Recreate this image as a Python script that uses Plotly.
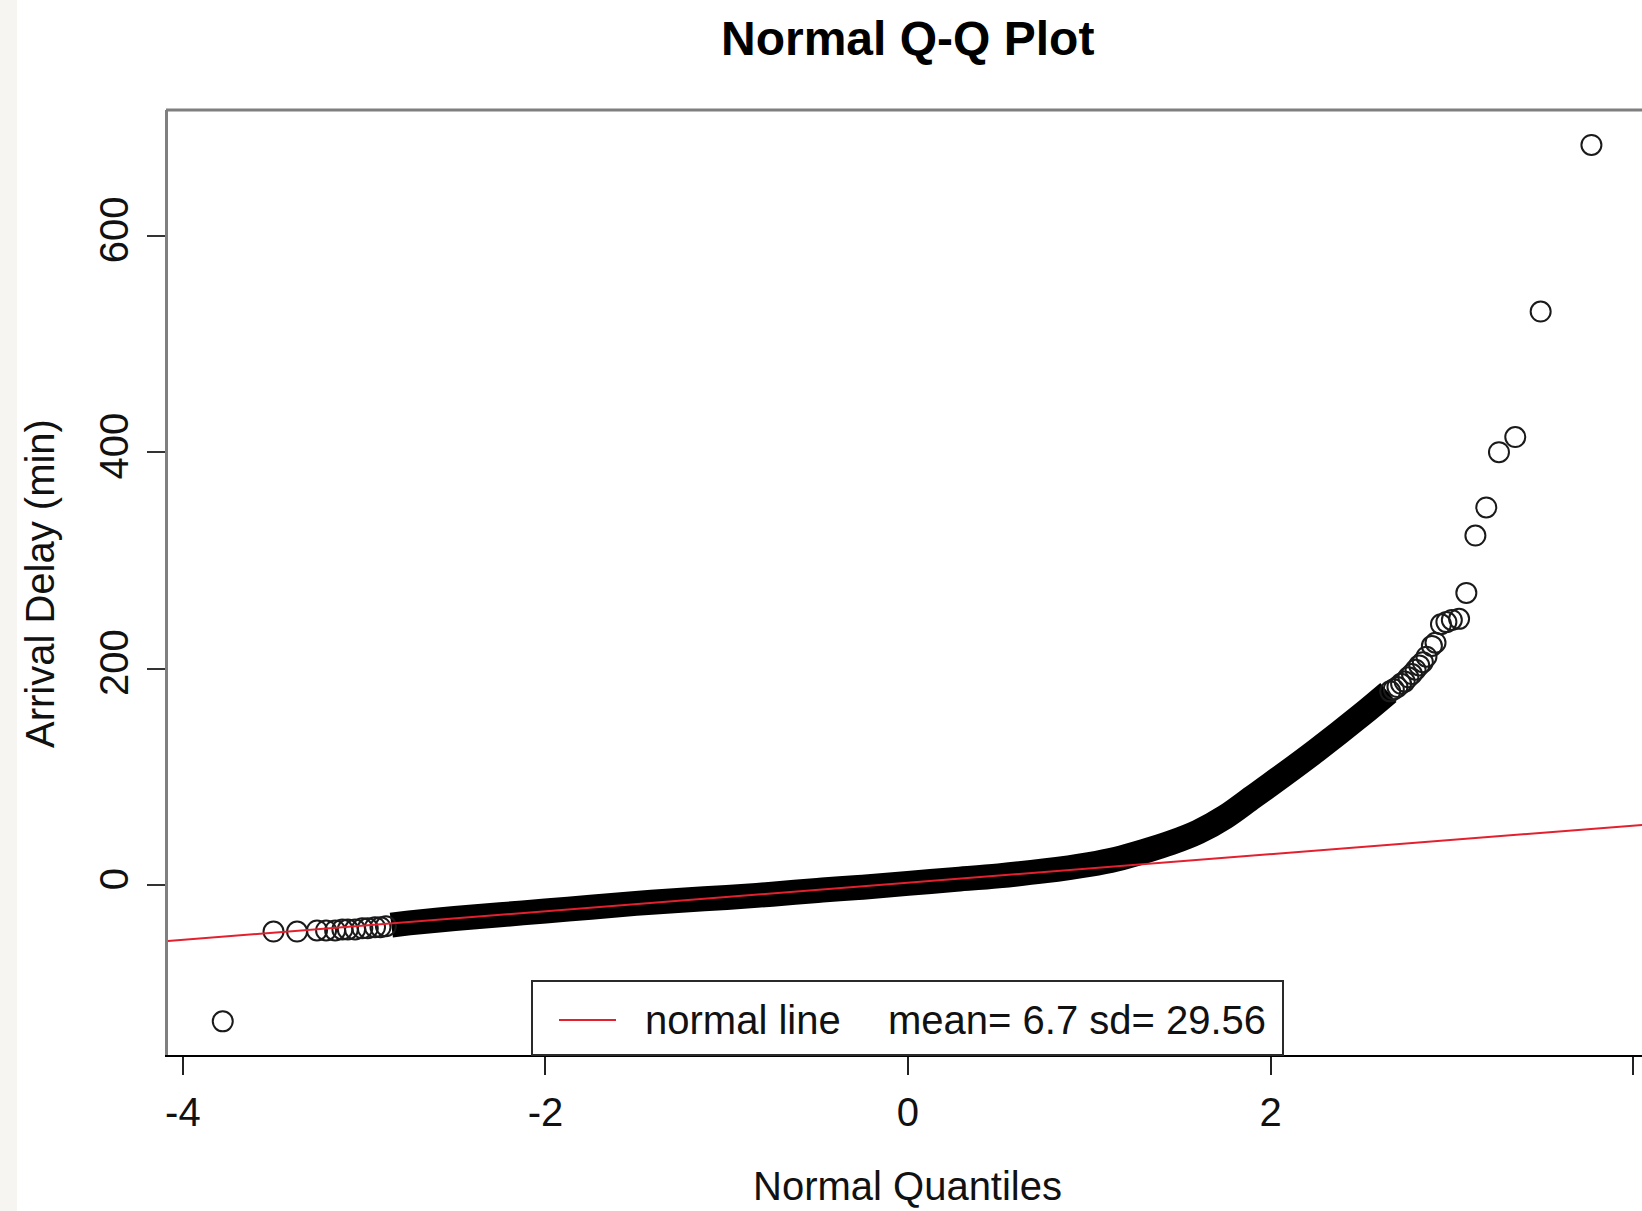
import plotly.graph_objects as go

# ---- data ----
# dense central band of the Q-Q points (theoretical quantile, arrival delay)
band_q = [-2.85, -2.75, -2.5, -2.25, -2.0, -1.75, -1.5, -1.25, -1.0, -0.75, -0.5,
          -0.25, 0.0, 0.25, 0.5, 0.75, 1.0, 1.15, 1.3, 1.45, 1.6, 1.75, 1.9, 2.0,
          2.25, 2.5, 2.65]
band_delay = [-37, -35, -31, -27.5, -24, -20.5, -17, -14, -11.5, -8.5, -5,
              -2, 1.5, 5, 8.5, 13, 19, 24, 31, 39, 49, 63, 81, 93,
              124, 157, 178]

# individually visible points in both tails
tail_q = [-3.78, -3.50, -3.37, -3.26, -3.21, -3.16, -3.12, -3.09, -3.05, -3.01,
          -2.98, -2.94, -2.91, -2.88,
          2.66, 2.68, 2.70, 2.72, 2.74, 2.76, 2.78, 2.80, 2.82, 2.84, 2.86, 2.89,
          2.91, 2.94, 2.97, 3.00, 3.04, 3.08, 3.13, 3.19, 3.26, 3.35, 3.49, 3.77]
tail_delay = [-126, -43, -43, -42, -42, -42, -41, -41, -41, -40,
              -40, -39, -39, -38,
              179, 181, 183, 186, 188, 192, 195, 199, 203, 206, 211, 221,
              224, 241, 243, 245, 246, 270, 323, 349, 400, 414, 530, 684]

# reference ("normal") line end points
ref_q = [-4.2, 4.2]
ref_delay = [-53.3, 57.5]

x_ticks = [-4, -2, 0, 2, 4]
y_ticks = [0, 200, 400, 600]

legend_label = "normal line"
legend_stats = "mean= 6.7 sd= 29.56"

FONT = "Liberation Sans, Arial, Helvetica, sans-serif"
W, H = 1642, 1211
L, R, T, B = 168, 0, 110, 156
PW, PH = W - L - R, H - T - B


def px(X):
    return (X - L) / PW


def py(Y):
    return (H - B - Y) / PH


fig = go.Figure()

fig.add_trace(go.Scatter(
    x=band_q, y=band_delay, mode="lines",
    line=dict(color="#000000", width=25, shape="spline", smoothing=1.0),
    hoverinfo="skip", showlegend=False))

fig.add_trace(go.Scatter(
    x=tail_q, y=tail_delay, mode="markers",
    marker=dict(symbol="circle-open", size=20, color="#1a1a1a",
                line=dict(width=2, color="#1a1a1a")),
    showlegend=False))

fig.add_trace(go.Scatter(
    x=ref_q, y=ref_delay, mode="lines",
    line=dict(color="#e3202e", width=2), showlegend=False))

shapes = [
    # light strip at the far left of the image
    dict(type="rect", xref="paper", yref="paper", x0=px(0), x1=px(17),
         y0=py(H), y1=py(0), fillcolor="#f6f5f2", line=dict(width=0), layer="below"),
    # top frame line
    dict(type="line", xref="paper", yref="paper", x0=px(166), x1=1.0,
         y0=py(110), y1=py(110), line=dict(color="#7f7f7f", width=3)),
    # legend box
    dict(type="rect", xref="paper", yref="paper", x0=px(532), x1=px(1283),
         y0=py(1055), y1=py(981), fillcolor="white",
         line=dict(color="#2a2a2a", width=2), layer="above"),
    # legend swatch
    dict(type="line", xref="paper", yref="paper", x0=px(559), x1=px(616),
         y0=py(1020), y1=py(1020), line=dict(color="#e3202e", width=2), layer="above"),
]

annotations = [
    dict(text=legend_label, xref="paper", yref="paper", x=px(643), y=py(1020),
         xanchor="left", yanchor="middle", showarrow=False,
         font=dict(family=FONT, size=40, color="#111")),
    dict(text=legend_stats, xref="paper", yref="paper", x=px(886), y=py(1020),
         xanchor="left", yanchor="middle", showarrow=False,
         font=dict(family=FONT, size=40, color="#111")),
    dict(text="Normal Quantiles", xref="paper", yref="paper", x=px(907), y=py(1186),
         xanchor="center", yanchor="middle", showarrow=False,
         font=dict(family=FONT, size=40, color="#111")),
    dict(text="Arrival Delay (min)", xref="paper", yref="paper", x=px(40), y=py(584),
         xanchor="center", yanchor="middle", showarrow=False, textangle=-90,
         font=dict(family=FONT, size=40, color="#111")),
    dict(text="<b>Normal Q-Q Plot</b>", xref="paper", yref="paper", x=px(907), y=py(39),
         xanchor="center", yanchor="middle", showarrow=False,
         font=dict(family=FONT, size=48, color="#000")),
]

fig.update_layout(
    width=W, height=H, autosize=False,
    margin=dict(l=L, r=R, t=T, b=B, pad=0),
    paper_bgcolor="white", plot_bgcolor="white",
    font=dict(family=FONT, color="#111"),
    shapes=shapes, annotations=annotations,
    showlegend=False,
)

fig.update_xaxes(
    range=[-4.082, 4.049], tickvals=x_ticks, ticktext=[str(v) for v in x_ticks],
    showgrid=False, zeroline=False, showline=True, linecolor="#000", linewidth=2,
    ticks="outside", ticklen=18, tickwidth=2, tickcolor="#222",
    tickfont=dict(family=FONT, size=40, color="#111"), ticklabelstandoff=3,
)
fig.update_yaxes(
    range=[-157.1, 716.3], tickvals=y_ticks, ticktext=[str(v) for v in y_ticks],
    showgrid=False, zeroline=False, showline=True, linecolor="#808080", linewidth=3,
    ticks="outside", ticklen=18, tickwidth=2, tickcolor="#333", tickangle=-90,
    tickfont=dict(family=FONT, size=40, color="#111"), ticklabelstandoff=3,
)

fig.write_html("out.html")
